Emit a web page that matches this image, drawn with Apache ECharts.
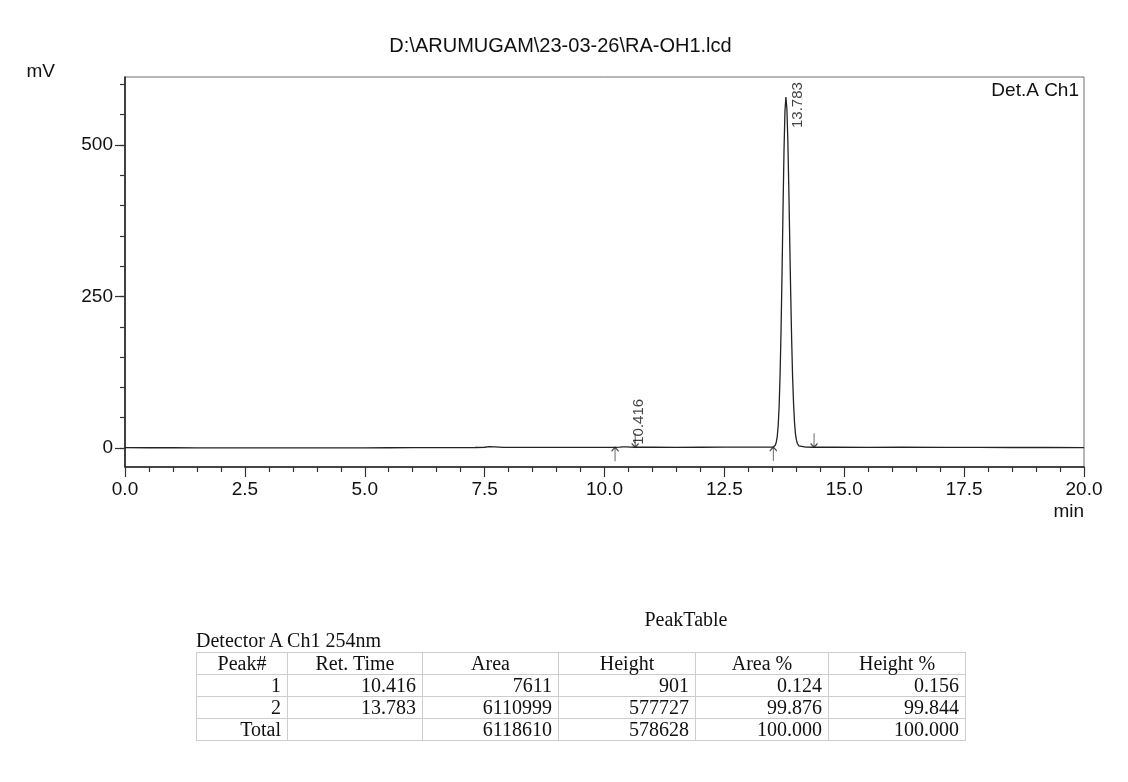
<!DOCTYPE html>
<html>
<head>
<meta charset="utf-8">
<title>RA-OH1 chromatogram</title>
<script src="https://cdn.jsdelivr.net/npm/echarts@6/dist/echarts.min.js"></script>
<style>
  html, body { margin: 0; padding: 0; background: #fff; }
  #chart { position: absolute; left: 0; top: 0; width: 1128px; height: 782px; }
  .serif { font-family: "Liberation Serif", "Times New Roman", serif; color: #111; }
  #tableTitle { position: absolute; left: 586px; width: 200px; top: 608px; text-align: center; font-size: 20px; line-height: 22px; }
  #detector { position: absolute; left: 196px; top: 629px; font-size: 20px; line-height: 22px; }
  #peakTable { position: absolute; left: 196px; top: 652px; border-collapse: collapse; table-layout: fixed; font-size: 20px; }
  #peakTable td { border: 1px solid #cdcdcd; height: 21px; padding: 0 6px 0 0; line-height: 21px; text-align: right; white-space: nowrap; }
  #peakTable tr.head td { text-align: center; padding: 0; }
</style>
</head>
<body>
<div id="chart"></div>
<div id="tableTitle" class="serif">PeakTable</div>
<div id="detector" class="serif">Detector A Ch1 254nm</div>
<table id="peakTable" class="serif"></table>
<script>
// Detector trace: retention time (min) and signal (mV)
const timeMin = [
  0.0, 0.5, 1.0, 1.5, 2.0, 2.5, 3.0, 3.5, 4.0, 4.5, 5.0, 5.5, 6.0, 6.5, 7.0, 7.3,
  7.5, 7.6, 7.7, 7.9, 8.3, 8.8, 9.3, 9.8, 10.1, 10.22, 10.32, 10.38, 10.416, 10.46,
  10.54, 10.64, 11.0, 11.5, 12.0, 12.5, 13.0, 13.3, 13.45, 13.52,
  13.563, 13.583, 13.603, 13.623, 13.643, 13.663, 13.683, 13.703, 13.723, 13.743,
  13.763, 13.783, 13.803, 13.823, 13.843, 13.863, 13.883, 13.903, 13.923, 13.943,
  13.963, 13.983, 14.003, 14.023, 14.053, 14.083,
  14.2, 14.37, 14.8, 15.5, 16.2, 17.0, 17.8, 18.5, 19.2, 20.0
];
const signalMv = [
  0.6, 0.5, 0.5, 0.4, 0.3, 0.2, 0.1, 0.1, 0.2, 0.3, 0.4, 0.5, 0.6, 0.7, 0.8, 0.9,
  1.3, 2.2, 1.9, 1.2, 1.0, 1.0, 1.1, 1.1, 1.2, 1.2, 1.5, 1.9, 2.1, 1.9,
  1.5, 1.3, 1.3, 1.2, 1.3, 1.4, 1.5, 1.5, 1.5, 1.6,
  4.5, 10, 19, 38, 71, 124, 198, 291, 394, 488,
  555, 579.2, 561, 509, 432, 343, 256, 179, 117, 73,
  42, 23, 13, 7.5, 3.5, 2.0,
  1.4, 1.3, 1.3, 1.2, 1.4, 1.1, 1.0, 0.9, 0.9, 0.8
];

// Detected peaks (apex) and integration marks
const peakTimeMin = [10.416, 13.783];
const peakApexMv = [2.1, 579.2];
const peakStartMin = [10.22, 13.52];
const peakStartMv = [1.2, 1.6];
const peakEndMin = [10.64, 14.37];
const peakEndMv = [1.3, 1.3];

// Axis ranges and ticks
const xTickStep = 2.5;
const yMinMv = -31.3;
const yMaxMv = 612.2;
const yLabelValues = [0, 250, 500];
const yMinorValues = [0, 50, 100, 150, 200, 250, 300, 350, 400, 450, 500, 550, 600];

// Peak table
const tableHeader = ['Peak#', 'Ret. Time', 'Area', 'Height', 'Area %', 'Height %'];
const tablePeakNo = ['1', '2', 'Total'];
const tableRetTime = ['10.416', '13.783', ''];
const tableArea = ['7611', '6110999', '6118610'];
const tableHeight = ['901', '577727', '578628'];
const tableAreaPct = ['0.124', '99.876', '100.000'];
const tableHeightPct = ['0.156', '99.844', '100.000'];
const tableColWidths = [91, 135, 136, 137, 133, 137];

const SANS = '"Liberation Sans", Arial, Helvetica, sans-serif';
const INK = '#111111';

const trace = timeMin.map((t, i) => [t, signalMv[i]]);
// label offsets are given in the rotated text frame: [-down, right]
const labelOffsets = [[2, 14], [-31, 12]];
const peakLabels = peakTimeMin.map((t, i) => ({
  value: [t, peakApexMv[i]],
  label: { offset: labelOffsets[i] }
}));
const startMarks = peakStartMin.map((t, i) => [t, peakStartMv[i]]);
const endMarks = peakEndMin.map((t, i) => [t, peakEndMv[i]]);

const arrowUp = 'path://M5,0 L5,20 M1.5,5.5 L5,0 L8.5,5.5';
const arrowDown = 'path://M5,20 L5,0 M1.5,14.5 L5,20 L8.5,14.5';

const chart = echarts.init(document.getElementById('chart'), null, { renderer: 'canvas' });

chart.setOption({
  animation: false,
  backgroundColor: '#ffffff',
  textStyle: { fontFamily: SANS, color: INK },
  title: [
    {
      text: 'D:\\ARUMUGAM\\23-03-26\\RA-OH1.lcd',
      left: 555.5, top: 31, textAlign: 'center',
      textStyle: { fontFamily: SANS, fontSize: 20, fontWeight: 'normal', color: INK }
    },
    {
      text: 'Det.A Ch1',
      right: 44, top: 76,
      textStyle: { fontFamily: SANS, fontSize: 19, fontWeight: 'normal', color: INK }
    }
  ],
  grid: {
    left: 125, right: 44, top: 77, bottom: 315,
    show: true, borderColor: '#6f6f6f', borderWidth: 1, backgroundColor: 'transparent'
  },
  xAxis: {
    type: 'value', min: 0, max: 20, interval: xTickStep,
    name: 'min', nameLocation: 'end', nameGap: 0,
    nameTextStyle: { fontFamily: SANS, fontSize: 19, color: INK, align: 'right', verticalAlign: 'top', padding: [35, 0, 0, 0] },
    axisLine: { show: true, onZero: false, lineStyle: { color: '#222', width: 1.6 } },
    axisTick: { show: true, inside: false, length: 10, lineStyle: { color: '#333', width: 1.2 } },
    minorTick: { show: true, splitNumber: 5, length: 5, lineStyle: { color: '#333', width: 1.2 } },
    axisLabel: { fontFamily: SANS, fontSize: 19, color: INK, margin: 13, formatter: v => v.toFixed(1) },
    splitLine: { show: false }
  },
  yAxis: [
    {
      type: 'value', min: yMinMv, max: yMaxMv, position: 'left',
      name: 'mV', nameLocation: 'end', nameGap: -4,
      nameTextStyle: { fontFamily: SANS, fontSize: 19, color: INK, align: 'right', padding: [0, 70, 0, 0] },
      axisLine: { show: true, onZero: false, lineStyle: { color: '#222', width: 1.6 } },
      axisTick: { show: true, inside: false, length: 5, customValues: yMinorValues, lineStyle: { color: '#333', width: 1.2 } },
      axisLabel: { fontFamily: SANS, fontSize: 19, color: INK, margin: 12, customValues: yLabelValues },
      splitLine: { show: false }
    },
    {
      type: 'value', min: yMinMv, max: yMaxMv, position: 'left',
      axisLine: { show: false },
      axisTick: { show: true, inside: false, length: 10, customValues: yLabelValues, lineStyle: { color: '#333', width: 1.2 } },
      axisLabel: { show: false },
      splitLine: { show: false }
    }
  ],
  series: [
    {
      name: 'Detector A Ch1',
      type: 'line',
      data: trace,
      showSymbol: false,
      symbol: 'none',
      lineStyle: { color: '#222', width: 1.3 },
      z: 3
    },
    {
      name: 'Peak labels',
      type: 'scatter',
      data: peakLabels,
      symbolSize: 0,
      label: {
        show: true,
        position: [0, 0],
        rotate: 90,
        align: 'left',
        verticalAlign: 'middle',
        fontFamily: SANS,
        fontSize: 15,
        color: INK,
        formatter: p => p.value[0].toFixed(3)
      },
      z: 4
    },
    {
      name: 'Peak start',
      type: 'scatter',
      data: startMarks,
      symbol: arrowUp,
      symbolSize: [7, 14],
      symbolOffset: [0, 7],
      itemStyle: { color: 'none', borderColor: '#222', borderWidth: 1.2 },
      z: 4
    },
    {
      name: 'Peak end',
      type: 'scatter',
      data: endMarks,
      symbol: arrowDown,
      symbolSize: [7, 14],
      symbolOffset: [0, -7],
      itemStyle: { color: 'none', borderColor: '#222', borderWidth: 1.2 },
      z: 4
    }
  ]
});

// Peak table rows
(function buildTable() {
  const table = document.getElementById('peakTable');
  const colgroup = document.createElement('colgroup');
  tableColWidths.forEach(w => {
    const c = document.createElement('col');
    c.style.width = w + 'px';
    colgroup.appendChild(c);
  });
  table.appendChild(colgroup);
  const addRow = (cells, cls) => {
    const tr = document.createElement('tr');
    if (cls) tr.className = cls;
    cells.forEach(text => {
      const td = document.createElement('td');
      td.textContent = text;
      tr.appendChild(td);
    });
    table.appendChild(tr);
  };
  addRow(tableHeader, 'head');
  tablePeakNo.forEach((p, i) => {
    addRow([p, tableRetTime[i], tableArea[i], tableHeight[i], tableAreaPct[i], tableHeightPct[i]]);
  });
})();
</script>
</body>
</html>
